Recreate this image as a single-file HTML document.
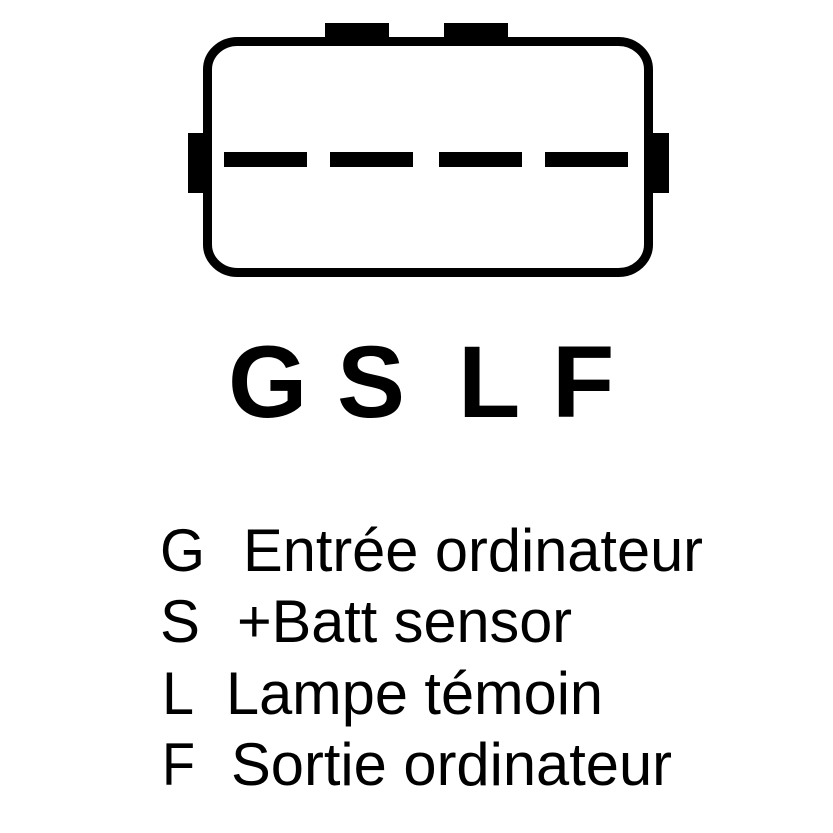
<!DOCTYPE html>
<html><head><meta charset="utf-8"><style>html,body{margin:0;padding:0;background:#fff}svg{display:block}</style></head>
<body>
<svg width="833" height="833" viewBox="0 0 833 833" xmlns="http://www.w3.org/2000/svg">
<rect x="0" y="0" width="833" height="833" fill="#fff"/>
<rect x="325" y="23" width="64" height="16" fill="#000"/>
<rect x="444" y="23" width="64" height="16" fill="#000"/>
<rect x="188" y="133" width="18" height="60" fill="#000"/>
<rect x="650" y="133" width="19" height="60" fill="#000"/>
<rect x="207.5" y="41.5" width="441" height="231" rx="30" ry="28" fill="none" stroke="#000" stroke-width="9"/>
<rect x="224" y="152" width="83" height="15" fill="#000"/>
<rect x="330" y="152" width="83" height="15" fill="#000"/>
<rect x="439" y="152" width="83" height="15" fill="#000"/>
<rect x="545" y="152" width="83" height="15" fill="#000"/>
<g font-family="Liberation Sans, sans-serif" font-weight="bold" font-size="102" fill="#000">
<text x="228" y="417">G</text>
<text x="337" y="417">S</text>
<text x="458" y="417">L</text>
<text x="552" y="417">F</text>
</g>
<g font-family="Liberation Sans, sans-serif" font-size="60" fill="#000">
<text x="160" y="571" textLength="45" lengthAdjust="spacingAndGlyphs">G</text>
<text x="243" y="571" textLength="460" lengthAdjust="spacingAndGlyphs">Entrée ordinateur</text>
<text x="160" y="642" textLength="40" lengthAdjust="spacingAndGlyphs">S</text>
<text x="237" y="642" textLength="335" lengthAdjust="spacingAndGlyphs">+Batt sensor</text>
<text x="162" y="714" textLength="32" lengthAdjust="spacingAndGlyphs">L</text>
<text x="226" y="714" textLength="377" lengthAdjust="spacingAndGlyphs">Lampe témoin</text>
<text x="162" y="785" textLength="33" lengthAdjust="spacingAndGlyphs">F</text>
<text x="231" y="785" textLength="441" lengthAdjust="spacingAndGlyphs">Sortie ordinateur</text>
</g>
</svg>
</body></html>
